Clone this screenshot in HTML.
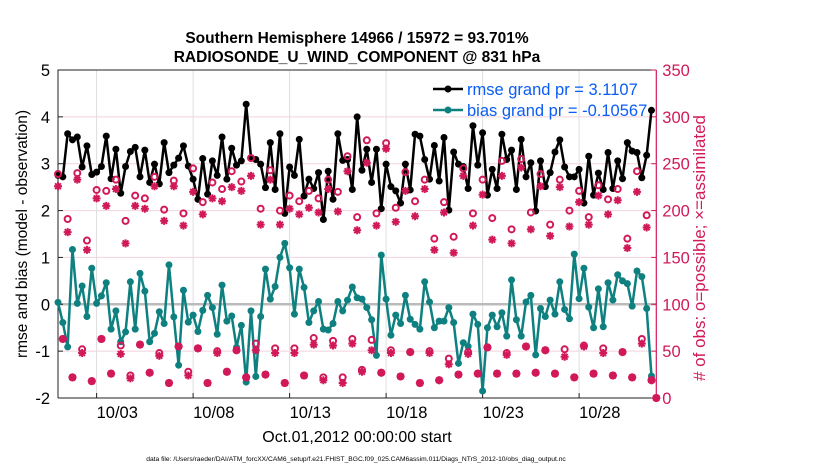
<!DOCTYPE html>
<html><head><meta charset="utf-8"><style>
body{margin:0;background:#fff;}
svg{display:block;font-family:"Liberation Sans",sans-serif;}
</style></head><body>
<svg id="chart" width="830" height="470" viewBox="0 0 830 470">
<rect width="830" height="470" fill="#fff"/>
<g id="grid"></g>
<g id="axes"></g>
<g id="series"></g>
<text x="357" y="43" text-anchor="middle" font-size="15.5" font-weight="bold">Southern Hemisphere 14966 / 15972 = 93.701%</text>
<text x="357" y="62" text-anchor="middle" font-size="15.5" font-weight="bold">RADIOSONDE_U_WIND_COMPONENT @ 831 hPa</text>
<text transform="translate(27,234) rotate(-90)" text-anchor="middle" font-size="15.5">rmse and bias (model - observation)</text>
<text transform="translate(705,248) rotate(-90)" text-anchor="middle" font-size="17" fill="#d1195a"># of obs: o=possible; ×=assimilated</text>
<text x="357" y="442" text-anchor="middle" font-size="16">Oct.01,2012 00:00:00 start</text>
<text x="356" y="461" text-anchor="middle" font-size="6.7">data file: /Users/raeder/DAI/ATM_forcXX/CAM6_setup/f.e21.FHIST_BGC.f09_025.CAM6assim.011/Diags_NTrS_2012-10/obs_diag_output.nc</text>
<g>
<g>
<line x1="433" y1="89" x2="463" y2="89" stroke="#000" stroke-width="2.5"/><circle cx="448" cy="89" r="3.5" fill="#000"/>
<text x="467" y="95" font-size="16.5" fill="#0a5cf5">rmse grand pr = 3.1107</text></g>
<g>
<line x1="433" y1="110" x2="463" y2="110" stroke="#0e8080" stroke-width="2.5"/><circle cx="448" cy="110" r="3.5" fill="#0e8080"/>
<text x="467" y="116" font-size="16.5" fill="#0a5cf5">bias grand pr = -0.10567</text></g>
</g>
</svg>
<script>
const rmse=[2.75,2.72,3.64,3.51,3.57,2.93,3.38,2.77,2.82,2.94,3.59,2.68,3.31,2.37,2.94,3.26,3.35,2.72,3.29,2.60,2.99,2.57,3.45,2.81,2.97,3.12,3.38,2.95,2.67,2.24,3.11,2.35,
3.06,2.75,3.57,2.67,3.33,2.97,3.06,4.27,3.13,3.09,2.99,2.49,3.45,2.45,3.64,1.94,2.93,2.75,3.52,2.31,2.67,2.47,2.81,1.81,2.84,2.24,3.64,3.07,3.09,2.45,4.00,
2.86,3.31,2.60,3.31,2.04,2.99,2.51,2.42,2.16,2.99,2.44,3.63,3.59,3.09,2.67,3.39,2.63,3.56,2.01,3.25,2.99,2.94,2.47,3.81,2.97,3.66,2.33,2.88,2.47,3.63,3.09,
3.29,2.45,3.52,2.72,3.02,1.99,3.06,2.51,2.81,3.25,3.51,2.93,2.72,2.72,2.88,2.16,3.16,2.33,2.80,2.45,3.24,2.47,3.06,2.68,3.45,3.27,3.24,2.70,3.18,4.14];
const bias=[0.04,-0.39,-0.91,1.17,0.02,0.39,-0.26,0.77,0.02,0.18,0.46,-0.53,-0.14,-0.80,-0.59,0.48,-0.53,0.66,0.28,-0.80,-0.62,-0.16,-0.41,0.84,-0.27,-1.30,0.30,-0.38,-0.23,-0.58,-0.13,0.19,
-0.07,-0.64,0.41,-0.36,-0.25,-0.92,-0.45,-1.66,-0.14,-1.54,-0.26,0.75,0.11,0.38,1.00,1.30,0.78,-0.21,0.75,0.36,-0.39,-0.14,0.06,-0.53,-0.55,-0.41,0.06,-0.14,0.09,0.37,0.14,
0.11,-0.07,-0.33,-1.09,1.05,0.11,-0.66,-0.23,-0.41,0.19,-0.32,-0.43,-0.53,0.48,0.05,-0.50,-0.36,-0.36,-0.07,-0.39,-1.26,-0.82,-0.90,-0.21,-0.43,-1.85,-0.50,-0.23,-0.48,-0.18,-0.68,
0.52,-0.33,-0.68,0.05,0.19,-1.08,-0.09,-0.26,0.09,-0.21,0.48,-0.11,-0.31,1.07,0.12,0.77,-0.06,-0.50,0.33,-0.48,0.46,0.09,0.63,0.50,0.44,-0.04,0.71,0.59,-0.09,-1.53];
const nPossible=[239,63,191,22,240,52,168,18,222,63,221,26,233,56,189,24,216,57,213,27,236,48,201,16,232,55,197,28,245,53,209,16,
230,50,223,28,242,51,231,22,256,58,202,25,243,53,200,16,216,53,210,24,221,64,213,22,233,61,220,22,258,63,193,
30,275,62,197,27,272,51,203,23,241,49,210,16,233,50,170,19,209,42,172,25,245,49,197,26,233,54,192,26,253,48,
180,26,255,55,198,27,239,51,185,26,233,52,200,22,221,56,193,26,227,53,212,24,223,49,170,22,242,63,195,19,0];
const nAssim=[226,63,177,22,233,48,158,18,213,63,205,26,223,47,165,21,205,57,202,27,226,45,189,16,226,55,184,24,220,53,196,16,
213,48,210,28,225,51,221,22,237,51,185,25,233,48,185,16,202,48,196,24,203,57,198,19,223,56,199,16,242,58,179,
28,251,51,184,27,266,48,188,23,221,49,194,16,223,48,158,19,198,36,155,25,237,47,184,26,217,54,169,26,237,46,
165,26,246,55,180,27,226,51,173,26,225,44,183,22,209,55,185,26,216,48,196,24,211,49,160,22,220,58,182,19,0];
const xTickDays=[2,7,12,17,22,27];
const xTickLabels=["10/03","10/08","10/13","10/18","10/23","10/28"];
const yLeftTicks=[-2,-1,0,1,2,3,4,5];
const yRightTicks=[0,50,100,150,200,250,300,350];

const NS="http://www.w3.org/2000/svg";
const L=58,R=656.3,T=70,B=398,RED="#d1195a",TEAL="#0e8080";
const x=d=>L+(d/31)*(R-L);
const yL=v=>B-(v+2)/7*(B-T);
const yR=v=>B-v/350*(B-T);
function mk(tag,attrs,parent){const e=document.createElementNS(NS,tag);for(const k in attrs)e.setAttribute(k,attrs[k]);parent.appendChild(e);return e;}
const grid=document.getElementById('grid'),axes=document.getElementById('axes'),series=document.getElementById('series');
yLeftTicks.forEach(v=>{if(v>-2&&v<5&&v!==0){const g=mk('line',{x1:L,x2:R,y1:yL(v),y2:yL(v),stroke:'#f2d3df','stroke-width':1},grid);

}});
xTickDays.forEach(d=>{const g=mk('line',{x1:x(d),x2:x(d),y1:T,y2:B,stroke:'#dedede','stroke-width':1},grid);

});
const z=mk('line',{x1:L,x2:R,y1:yL(0),y2:yL(0),stroke:'#bbbbbb','stroke-width':2.5},grid);


const fr=mk('path',{d:`M${L},${B}V${T}H${R}M${L},${B}H${R}`,fill:'none',stroke:'#222','stroke-width':1},axes);


const ra=mk('line',{x1:R,x2:R,y1:T,y2:B,stroke:RED,'stroke-width':1.2},axes);


yLeftTicks.forEach(v=>{mk('line',{x1:L,x2:L+5,y1:yL(v),y2:yL(v),stroke:'#222'},axes);
const t=mk('text',{x:L-8,y:yL(v)+6,'text-anchor':'end','font-size':16.5},axes);t.textContent=v;

});
yRightTicks.forEach(v=>{mk('line',{x1:R-5,x2:R,y1:yR(v),y2:yR(v),stroke:RED},axes);
const t=mk('text',{x:R+6,y:yR(v)+6,'font-size':16.5,fill:RED},axes);t.textContent=v;

});
xTickDays.forEach((d,i)=>{mk('line',{x1:x(d),x2:x(d),y1:B,y2:B-5,stroke:'#222'},axes);
const t=mk('text',{x:x(d),y:B+20,'font-size':16.5},axes);t.textContent=xTickLabels[i];

});
function line(vals,color,name){
 const d=vals.map((v,i)=>(i?'L':'M')+x(i/4).toFixed(2)+','+yL(v).toFixed(2)).join('');
 const p=mk('path',{d:d,fill:'none',stroke:color,'stroke-width':2.5,'stroke-linejoin':'round'},series);
 
 
 vals.forEach((v,i)=>{const c=mk('circle',{cx:x(i/4),cy:yL(v),r:3.5,fill:color},series);
 
 });
}
line(bias,TEAL,'bias');
line(rmse,'#000','rmse');
nAssim.forEach((v,i)=>{const cx=x(i/4),cy=yR(v),s=4,q=2.9;
 const a=mk('path',{d:`M${cx-s},${cy}H${cx+s}M${cx},${cy-s}V${cy+s}M${cx-q},${cy-q}L${cx+q},${cy+q}M${cx-q},${cy+q}L${cx+q},${cy-q}`,stroke:RED,'stroke-width':2,fill:'none'},series);
 
 });
nPossible.forEach((v,i)=>{const c=mk('circle',{cx:x(i/4),cy:yR(v),r:3,fill:'none',stroke:RED,'stroke-width':2},series);
 
 });
</script>
</body></html>
